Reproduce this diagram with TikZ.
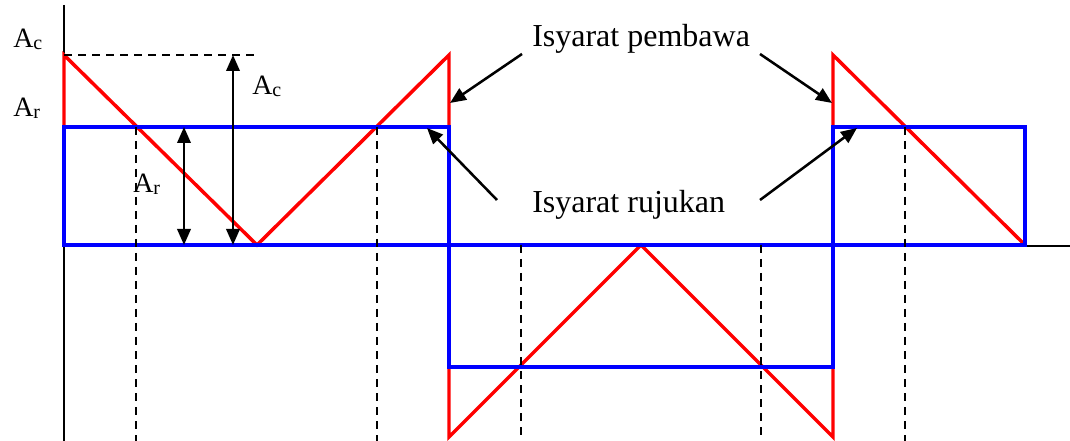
\documentclass[tikz,border=0pt]{standalone}
\usepackage{fontspec}
\setmainfont{Liberation Serif}
\usetikzlibrary{arrows.meta}
\tikzset{
  axisline/.style={black,line width=1.5pt},
  carrier/.style={red,line width=2.6pt,line join=miter},
  reference/.style={blue,line width=3.2pt,line join=miter},
  guide/.style={black,line width=1.8pt,dash pattern=on 6pt off 4.5pt},
  dimarrow/.style={black,line width=1.9pt,{Triangle[length=12pt,width=10pt]}-{Triangle[length=12pt,width=10pt]}},
  callout/.style={black,line width=1.9pt,-{Triangle[length=12pt,width=10pt]}},
  bigtext/.style={font=\fontsize{24}{28}\selectfont,inner sep=0pt,anchor=base west},
  amptext/.style={font=\fontsize{21}{24}\selectfont,inner sep=0pt,anchor=base west}
}
\newcommand{\amp}[1]{A\raisebox{-1.5pt}{\fontsize{15}{16}\selectfont #1}}
\begin{document}
\begin{tikzpicture}[x=0.75pt,y=-0.75pt]
\useasboundingbox (0,0) rectangle (1070,441);
% axes
\draw[axisline] (64,5) -- (64,441);
\draw[axisline] (64,246) -- (1070,246);
% carrier (red)
\draw[carrier] (64,127) -- (64,55) -- (257,245) -- (449,55) -- (449,437) -- (641,245) -- (833,437) -- (833,55) -- (1025,245);
% reference (blue)
\draw[reference] (64,245) -- (64,127) -- (449,127) -- (449,367) -- (833,367) -- (833,127) -- (1025,127) -- (1025,245) -- cycle;
% dashed guides
\draw[guide] (64,55) -- (256,55);
\draw[guide] (136,127) -- (136,441);
\draw[guide] (377,127) -- (377,441);
\draw[guide] (521,245) -- (521,441);
\draw[guide] (761,245) -- (761,441);
\draw[guide] (905,127) -- (905,441);
% dimension arrows
\coordinate (acTop) at (233,55);
\coordinate (acBot) at (233,245);
\coordinate (arTop) at (184,127);
\coordinate (arBot) at (184,245);
\draw[dimarrow] (acTop) -- (acBot);
\draw[dimarrow] (arTop) -- (arBot);
% amplitude labels
\node[amptext] (lAc) at (13,48) {\amp{c}};
\node[amptext] (lAr) at (13,117) {\amp{r}};
\node[amptext] (mAc) at (252,95) {\amp{c}};
\node[amptext] (mAr) at (133,193) {\amp{r}};
% signal labels
\node[bigtext] (pembawa) at (532,47) {Isyarat pembawa};
\node[bigtext] (rujukan) at (532,213) {Isyarat rujukan};
\coordinate (pL) at (522,54);
\coordinate (pR) at (760,54);
\coordinate (rL) at (497,200);
\coordinate (rR) at (760,200);
\coordinate (pLt) at (450,103);
\coordinate (pRt) at (832,103);
\coordinate (rLt) at (427,128);
\coordinate (rRt) at (857,128);
\draw[callout] (pL) -- (pLt);
\draw[callout] (pR) -- (pRt);
\draw[callout] (rL) -- (rLt);
\draw[callout] (rR) -- (rRt);
\end{tikzpicture}
\end{document}
